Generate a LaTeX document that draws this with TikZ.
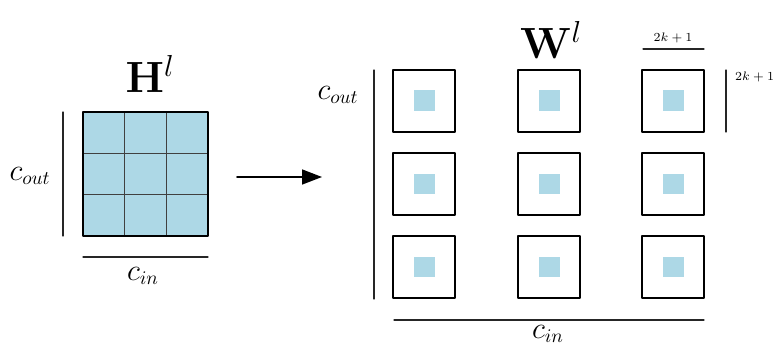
\documentclass[tikz,border=0pt]{standalone}
\usetikzlibrary{arrows.meta}
\definecolor{cellblue}{HTML}{ADD8E6}
\tikzset{
  wbox/.style={draw,line width=1.1pt,minimum size=1.24cm,inner sep=0pt},
  kcell/.style={fill=cellblue,minimum size=0.42cm,inner sep=0pt},
  sizebar/.style={line width=0.6pt,black!85},
  dimlabel/.style={font=\fontsize{7.5}{9}\selectfont},
  biglabel/.style={font=\fontsize{23}{28}\selectfont}
}
\begin{document}
\begin{tikzpicture}[x=0.02cm,y=-0.02cm,>=Triangle,line join=round,line cap=round,font=\fontsize{16}{19}\selectfont]
	\useasboundingbox (0,0) rectangle (780,347);
	\path (83,112) coordinate (HA)
	(208,236) coordinate (HB)
	(237,177) coordinate (arrS)
	(322,177) coordinate (arrE)
	;
	% input grid H
	\fill[cellblue] (HA) rectangle (HB);
	\foreach \i in {1,2}
	{\draw[black!75,line width=0.7pt] (83+41.67*\i,112) -- (83+41.67*\i,236);
	 \draw[black!75,line width=0.7pt] (83,112+41.33*\i) -- (208,112+41.33*\i);}
	\draw[line width=1.1pt] (HA) rectangle (HB);
	\node[biglabel] (Hlab) at (150,74) {$\mathbf{H}^l$};
	\draw[sizebar] (63,112) -- (63,236);
	\node (Hcout) at (30,176) {$c_{out}$};
	\draw[sizebar] (83,257) -- (208,257);
	\node (Hcin) at (143,276) {$c_{in}$};
	
	\draw[line width=0.9pt,-{Triangle[length=4mm,width=3mm]}] (arrS) -- (arrE);
	
	% kernels W
	\foreach \c/\x in {1/393,2/518,3/642}
	\foreach \r/\y in {1/70,2/153,3/236}
	{\node[wbox] (w\r\c) at (\x+31,\y+31) {};
	 \node[kcell] (k\r\c) at (w\r\c) {};}
	\node[biglabel] (Wlab) at (551,40) {$\mathbf{W}^l$};
	\draw[sizebar] (374,70) -- (374,299);
	\node (Wcout) at (338,95) {$c_{out}$};
	\draw[sizebar] (394,320) -- (704,320);
	\node (Wcin) at (548,334) {$c_{in}$};
	\draw[sizebar] (643,49) -- (704,49);
	\node[dimlabel] (ktop) at (673,38) {$2k+1$};
	\draw[sizebar] (726,70) -- (726,132);
	\node[dimlabel,anchor=west] (kside) at (729,77) {$2k+1$};
\end{tikzpicture}
\end{document}
